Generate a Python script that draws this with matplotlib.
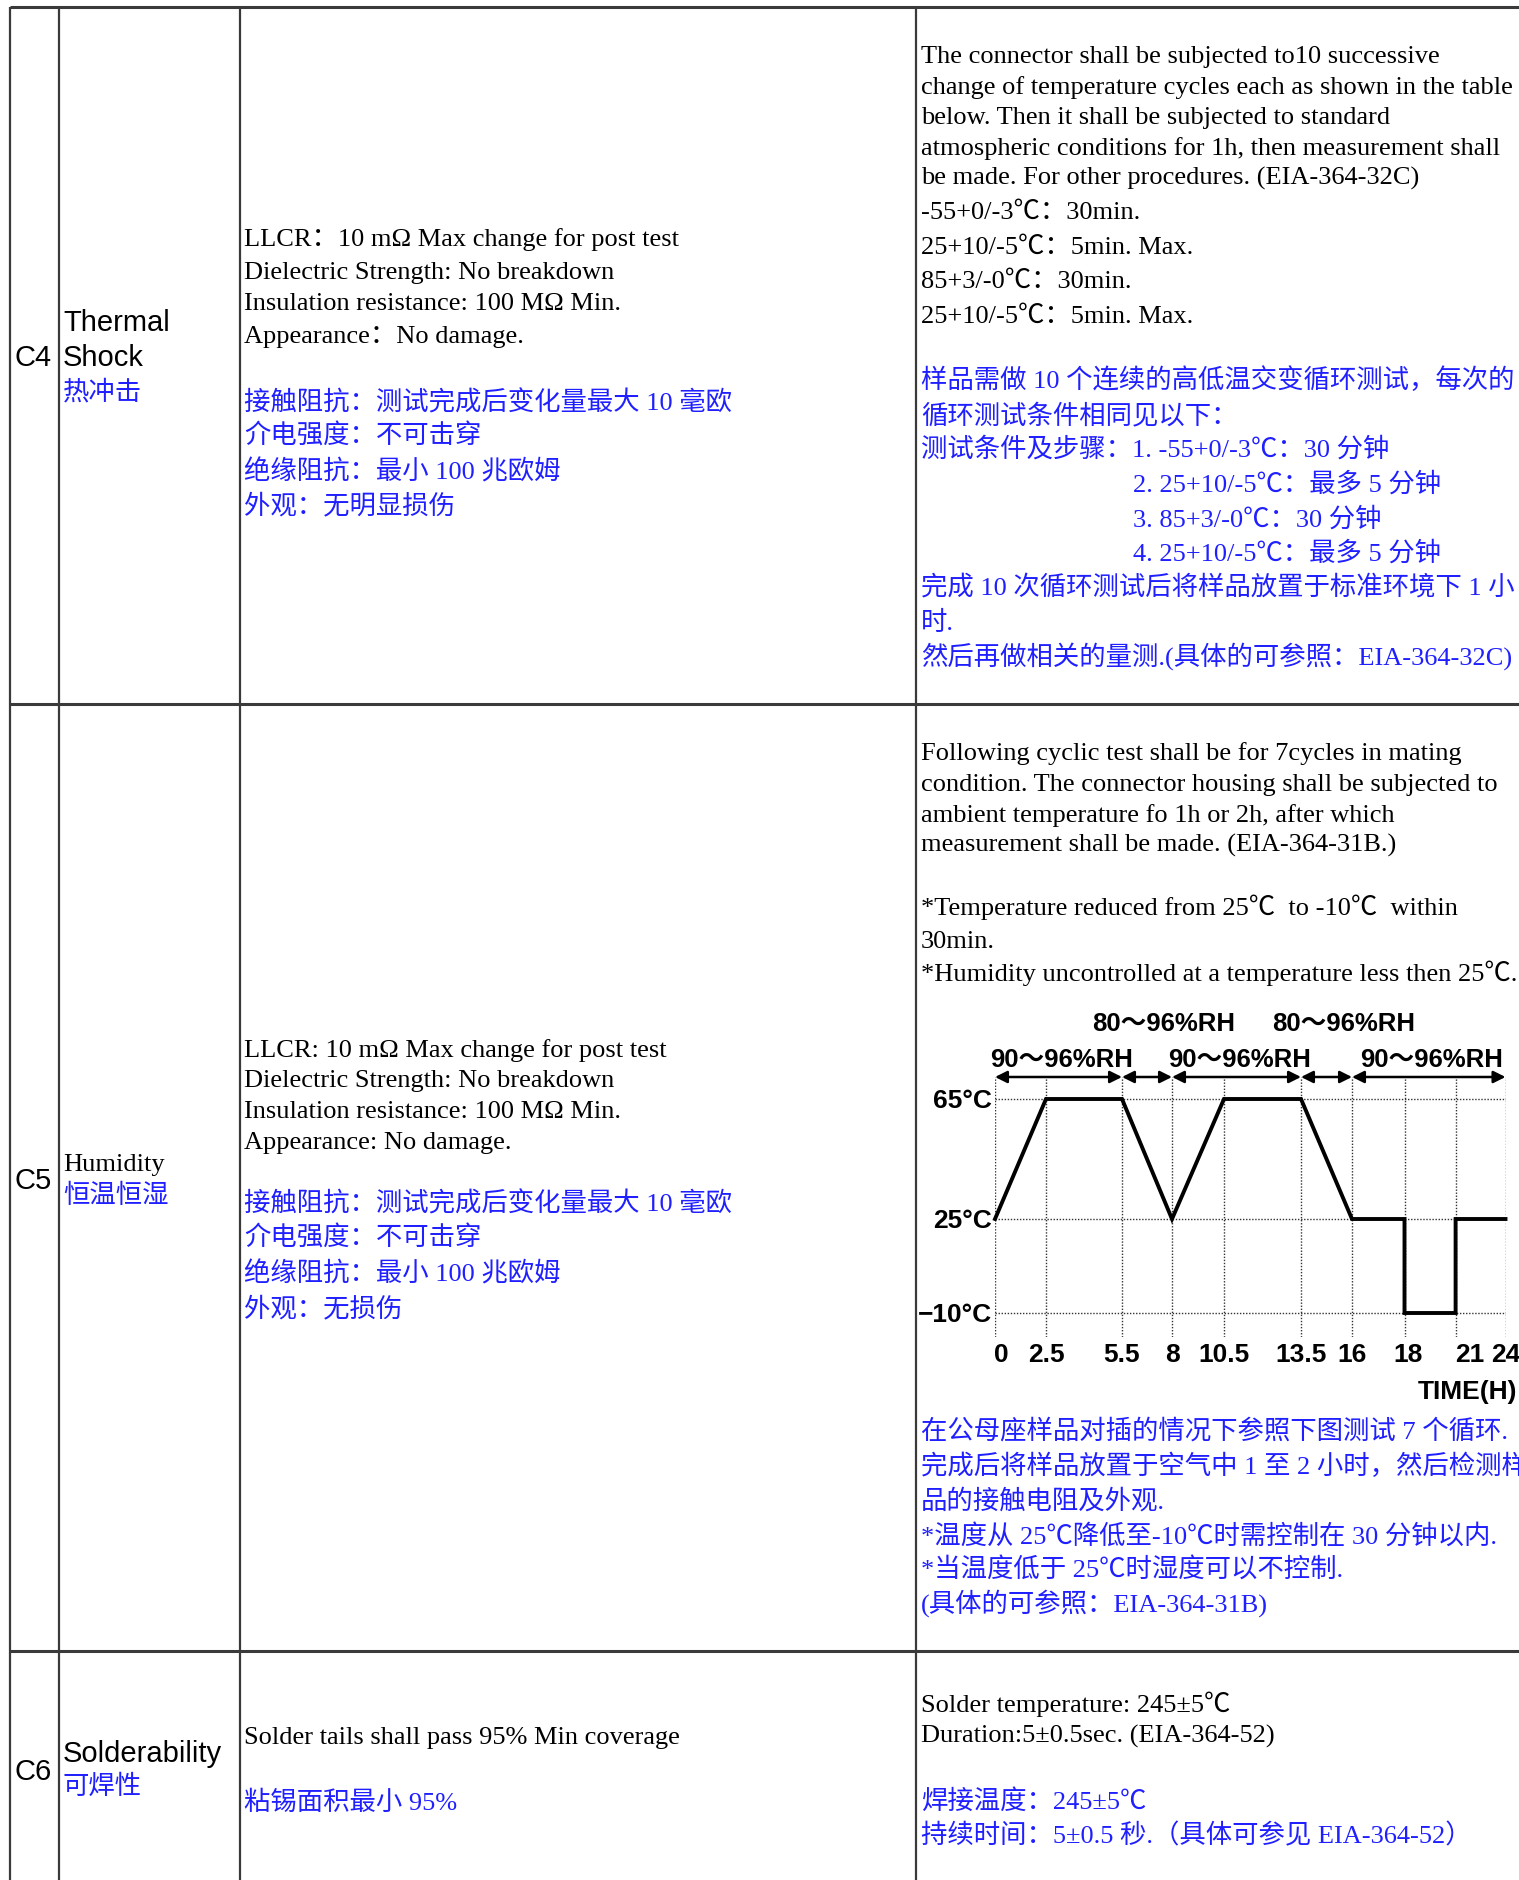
import numpy as np
import matplotlib
matplotlib.use('Agg')
import matplotlib.pyplot as plt
import matplotlib.transforms as mtransforms

# ---------------- data ----------------
hours = [0, 2.5, 5.5, 8, 10.5, 13.5, 16, 18, 18, 21, 21, 24]
temps = [25, 65, 65, 25, 65, 65, 25, 25, -10, -10, 25, 25]
time_ticks = [0, 2.5, 5.5, 8, 10.5, 13.5, 16, 18, 21, 24]
time_tick_labels = ['0', '2.5', '5.5', '8', '10.5', '13.5', '16', '18', '21', '24']
temp_ticks = [-10, 25, 65]
temp_tick_labels = ['\u221210°C', '25°C', '65°C']
rh_spans = [(0, 5.5), (5.5, 8), (8, 13.5), (13.5, 16), (16, 24)]
rh_labels = ['90～96%RH', '80～96%RH', '90～96%RH', '80～96%RH', '90～96%RH']

row_ids = ['C4', 'C5', 'C6']

c4_name = ['Thermal', 'Shock', '热冲击']
c4_req_en = ['LLCR：10 mΩ Max change for post test',
             'Dielectric Strength: No breakdown',
             'Insulation resistance: 100 MΩ Min.',
             'Appearance：No damage.']
c4_req_cn = ['接触阻抗：测试完成后变化量最大 10 毫欧', '介电强度：不可击穿',
             '绝缘阻抗：最小 100 兆欧姆', '外观：无明显损伤']
c4_proc_en = ['The connector shall be subjected to10 successive',
              'change of temperature cycles each as shown in the table',
              'below. Then it shall be subjected to standard',
              'atmospheric conditions for 1h, then measurement shall',
              'be made. For other procedures. (EIA-364-32C)']
c4_proc_steps = ['-55+0/-3℃：30min.', '25+10/-5℃：5min. Max.',
                 '85+3/-0℃：30min.', '25+10/-5℃：5min. Max.']
c4_proc_cn = ['样品需做 10 个连续的高低温交变循环测试，每次的',
              '循环测试条件相同见以下：',
              '测试条件及步骤：1. -55+0/-3℃：30 分钟',
              '2. 25+10/-5℃：最多 5 分钟',
              '3. 85+3/-0℃：30 分钟',
              '4. 25+10/-5℃：最多 5 分钟',
              '完成 10 次循环测试后将样品放置于标准环境下 1 小',
              '时.',
              '然后再做相关的量测.(具体的可参照：EIA-364-32C)']

c5_name = ['Humidity', '恒温恒湿']
c5_req_en = ['LLCR: 10 mΩ Max change for post test',
             'Dielectric Strength: No breakdown',
             'Insulation resistance: 100 MΩ Min.',
             'Appearance: No damage.']
c5_req_cn = ['接触阻抗：测试完成后变化量最大 10 毫欧', '介电强度：不可击穿',
             '绝缘阻抗：最小 100 兆欧姆', '外观：无损伤']
c5_proc_en = ['Following cyclic test shall be for 7cycles in mating',
              'condition. The connector housing shall be subjected to',
              'ambient temperature fo 1h or 2h, after which',
              'measurement shall be made. (EIA-364-31B.)']
c5_proc_notes = ['*Temperature reduced from 25℃  to -10℃  within',
                 '30min.',
                 '*Humidity uncontrolled at a temperature less then 25℃.']
c5_proc_cn = ['在公母座样品对插的情况下参照下图测试 7 个循环.',
              '完成后将样品放置于空气中 1 至 2 小时，然后检测样',
              '品的接触电阻及外观.',
              '*温度从 25℃降低至-10℃时需控制在 30 分钟以内.',
              '*当温度低于 25℃时湿度可以不控制.',
              '(具体的可参照：EIA-364-31B)']

c6_name = ['Solderability', '可焊性']
c6_req = ['Solder tails shall pass 95% Min coverage', '粘锡面积最小 95%']
c6_proc = ['Solder temperature: 245±5℃', 'Duration:5±0.5sec. (EIA-364-52)',
           '焊接温度：245±5℃', '持续时间：5±0.5 秒.（具体可参见 EIA-364-52）']

# ---------------- styling ----------------
W, H = 1519, 1880
SERIF = ['Liberation Serif', 'Noto Sans CJK SC']
SANS = ['Liberation Sans', 'Noto Sans CJK SC']
BLUE = '#1f1fff'
LINE = '#3a3a3a'

fig = plt.figure(figsize=(W / 100, H / 100), dpi=100)
fig.patch.set_facecolor('white')
bg = fig.add_axes([0, 0, 1, 1])
bg.set_xlim(0, W)
bg.set_ylim(H, 0)
bg.axis('off')

# table grid
top = 7
for x in [10, 59, 240, 916]:
    bg.plot([x, x], [top, H], color=LINE, lw=1.6, solid_capstyle='butt')
for y, lw in [(top, 2.2), (704, 2.2), (1651, 2.2)]:
    bg.plot([10, W], [y, y], color=LINE, lw=lw, solid_capstyle='butt')


def put(x, y, s, size=19, color='k', fam=SERIF):
    bg.text(x, y, s, fontsize=size, color=color, family=fam,
            va='baseline', ha='left')


# ---- C4 row ----
put(15, 366, row_ids[0], size=21, fam=SANS)
put(63, 331, c4_name[0], size=21, fam=SANS)
put(63, 366, c4_name[1], size=21, fam=SANS)
put(63, 399, c4_name[2], color=BLUE)
for s, y in zip(c4_req_en, [246, 279, 310, 343]):
    put(244, y, s)
for s, y in zip(c4_req_cn, [411, 444, 479, 513]):
    put(244, y, s, color=BLUE)
for s, y in zip(c4_proc_en, [63, 94, 124, 155, 185]):
    put(921, y, s)
for s, y in zip(c4_proc_steps, [219, 254, 288, 323]):
    put(921, y, s)
cn_y = [388, 423, 457, 492, 527, 561, 595, 630, 665]
cn_x = [921, 921, 921, 1133, 1133, 1133, 921, 921, 921]
for s, x, y in zip(c4_proc_cn, cn_x, cn_y):
    put(x, y, s, color=BLUE)

# ---- C5 row ----
put(15, 1189, row_ids[1], size=21, fam=SANS)
put(63, 1171, c5_name[0])
put(63, 1203, c5_name[1], color=BLUE)
for s, y in zip(c5_req_en, [1057, 1087, 1118, 1149]):
    put(244, y, s)
for s, y in zip(c5_req_cn, [1212, 1246, 1281, 1316]):
    put(244, y, s, color=BLUE)
for s, y in zip(c5_proc_en, [760, 791, 822, 852]):
    put(921, y, s)
for s, y in zip(c5_proc_notes, [915, 948, 981]):
    put(921, y, s)
for s, y in zip(c5_proc_cn, [1439, 1474, 1509, 1544, 1577, 1612]):
    put(921, y, s, color=BLUE)

# ---- C6 row ----
put(15, 1780, row_ids[2], size=21, fam=SANS)
put(63, 1762, c6_name[0], size=21, fam=SANS)
put(63, 1794, c6_name[1], color=BLUE)
put(244, 1744, c6_req[0])
put(244, 1810, c6_req[1], color=BLUE)
put(921, 1712, c6_proc[0])
put(921, 1743, c6_proc[1])
put(921, 1809, c6_proc[2], color=BLUE)
put(921, 1843, c6_proc[3], color=BLUE)

# ---------------- humidity chart ----------------
XP = [0, 51, 127, 177, 229, 306, 357, 409.5, 460.6, 510.5]


def fwd_x(h):
    return np.interp(h, time_ticks, XP)


def inv_x(p):
    return np.interp(p, XP, time_ticks)


TK = [-10, 25, 65]
TP = [0, 94, 214]
S_LO = 94 / 35.0
S_HI = 3.0


def fwd_y(t):
    t = np.asarray(t, dtype=float)
    return np.where(t < -10, (t + 10) * S_LO,
                    np.where(t > 65, 214 + (t - 65) * S_HI, np.interp(t, TK, TP)))


def inv_y(p):
    p = np.asarray(p, dtype=float)
    return np.where(p < 0, -10 + p / S_LO,
                    np.where(p > 214, 65 + (p - 214) / S_HI, np.interp(p, TP, TK)))


ax_l, ax_r, ax_t, ax_b = 995, 1505.5, 1077, 1337
ax = fig.add_axes([ax_l / W, 1 - ax_b / H, (ax_r - ax_l) / W, (ax_b - ax_t) / H])
ax.patch.set_alpha(0)
ax.set_xscale('function', functions=(fwd_x, inv_x))
ax.set_yscale('function', functions=(fwd_y, inv_y))
ax.set_xlim(0, 24)
ax.set_ylim(-10 - 24 / S_LO, 65 + 22 / S_HI)
for sp in ax.spines.values():
    sp.set_visible(False)
ax.set_xticks(time_ticks)
ax.set_xticklabels(time_tick_labels)
ax.set_yticks(temp_ticks)
ax.set_yticklabels(temp_tick_labels)
ax.tick_params(length=0, labelsize=19, pad=2)
ax.tick_params(axis='x', pad=4)
for lab in ax.get_xticklabels() + ax.get_yticklabels():
    lab.set_family(SANS)
    lab.set_fontweight('bold')
# small horizontal nudges of a few tick labels, as in the scanned original
nudges = {'0': 6, '21': 14, '18': 4}
for lab in ax.get_xticklabels():
    dx = nudges.get(lab.get_text(), 0)
    if dx:
        lab.set_transform(lab.get_transform() +
                          mtransforms.ScaledTranslation(dx / 100, 0, fig.dpi_scale_trans))
ax.grid(True, color='#333333', lw=1.0, linestyle=(0, (1, 1.2)))
ax.set_axisbelow(True)

ax.plot(hours, temps, color='k', lw=2.8, clip_on=False,
        solid_joinstyle='miter', zorder=5)

trans = ax.get_xaxis_transform()
for (a, b), lab in zip(rh_spans, rh_labels):
    ax.annotate('', xy=(b, 1.0), xytext=(a, 1.0), xycoords=trans,
                textcoords=trans, annotation_clip=False,
                arrowprops=dict(arrowstyle='<|-|>', color='k', lw=1.8,
                                mutation_scale=18, shrinkA=0, shrinkB=0))
    mid = fwd_x(a) / 2 + fwd_x(b) / 2
    xm = float(inv_x(mid))
    if lab.startswith('80'):
        dy, dx = 38, 12
    else:
        dy, dx = 12, 2
    ax.annotate(lab, xy=(xm, 1.0), xycoords=trans, xytext=(dx, dy),
                textcoords='offset points', ha='center', va='center',
                fontsize=18.5, fontweight='bold', family=SANS,
                annotation_clip=False)

bg.text(1517, 1392, 'TIME(H)', fontsize=19, fontweight='bold', family=SANS,
        ha='right', va='center')

fig.savefig('out.png', dpi=100, facecolor='white')
